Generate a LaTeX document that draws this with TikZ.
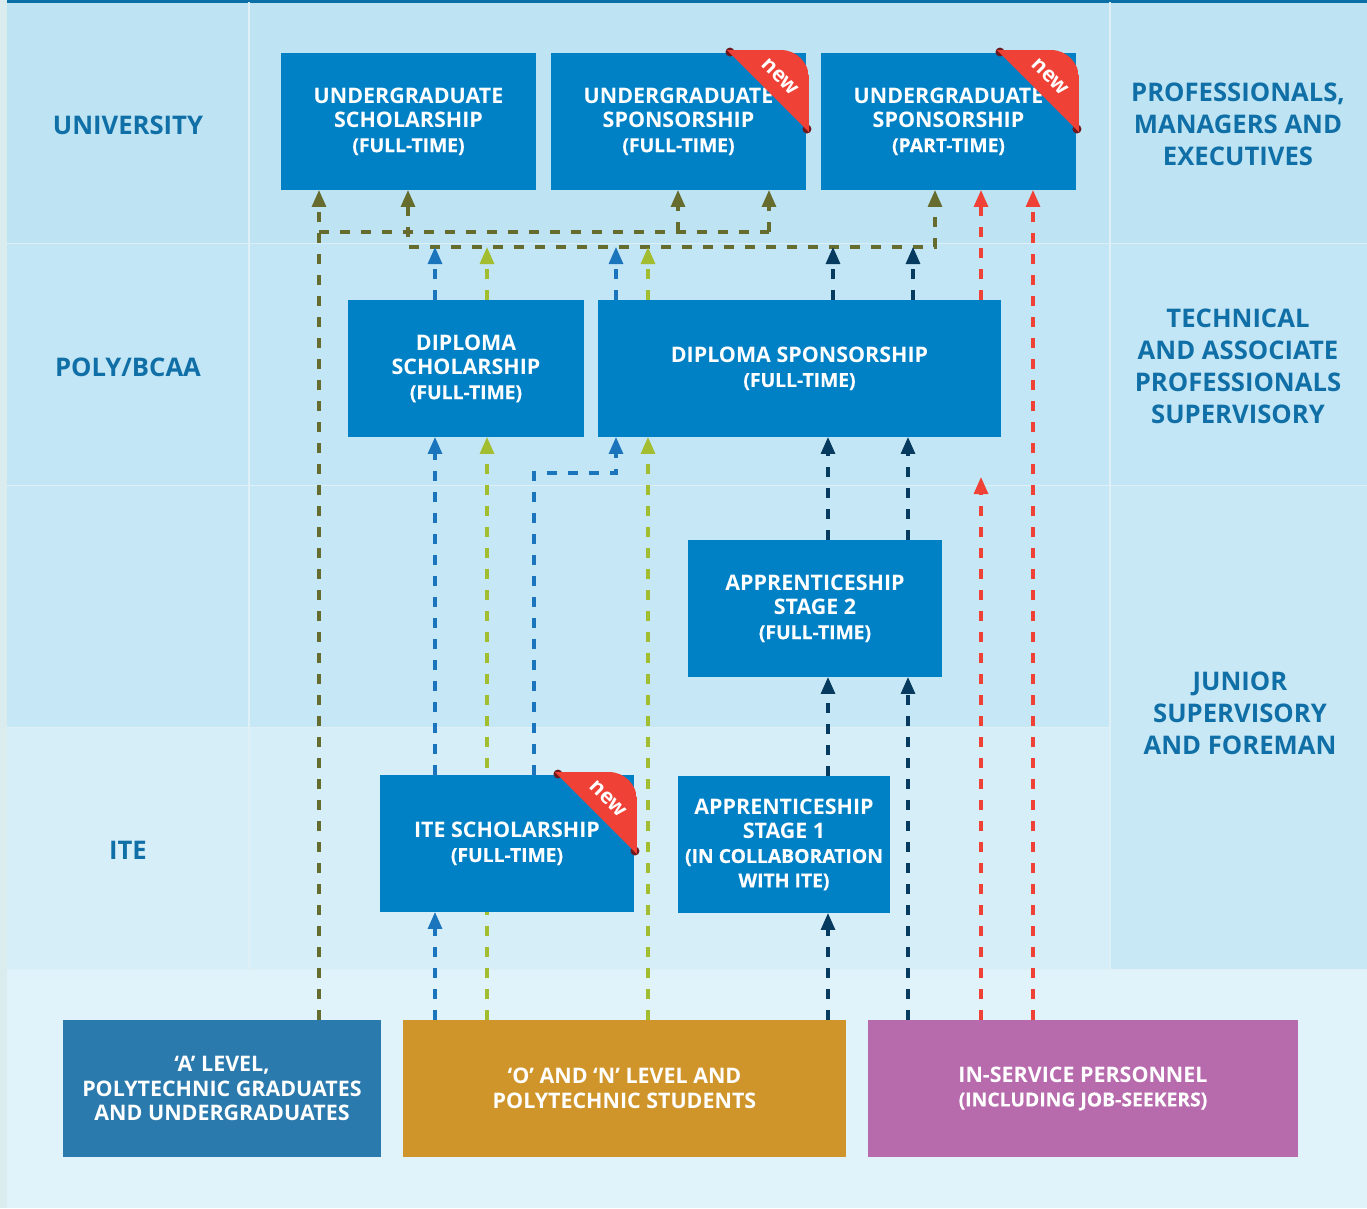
\documentclass[tikz,border=0pt]{standalone}
\usepackage{fontspec}
\setmainfont{Open Sans}
\newfontfamily\semiFont[FakeBold=0.3]{Open Sans}
\usetikzlibrary{arrows.meta, positioning, backgrounds}
\definecolor{bgStrip}{RGB}{219, 236, 238}
\definecolor{topBar}{RGB}{10, 111, 166}
\definecolor{rowUni}{RGB}{190, 228, 243}
\definecolor{rowPoly}{RGB}{194, 230, 245}
\definecolor{rowMid}{RGB}{198, 232, 246}
\definecolor{rowIte}{RGB}{214, 238, 248}
\definecolor{rowBase}{RGB}{224, 242, 250}
\definecolor{colJunior}{RGB}{200, 232, 245}
\definecolor{gridLine}{RGB}{222, 239, 245}
\definecolor{labelBlue}{RGB}{16, 111, 166}
\definecolor{progBlue}{RGB}{0, 129, 198}
\definecolor{levelA}{RGB}{42, 122, 173}
\definecolor{levelO}{RGB}{207, 149, 42}
\definecolor{levelIn}{RGB}{183, 107, 173}
\definecolor{ribbonRed}{RGB}{239, 65, 54}
\definecolor{ribbonDark}{RGB}{110, 25, 30}
\definecolor{arrOlive}{RGB}{101, 108, 46}
\definecolor{arrBlue}{RGB}{26, 117, 188}
\definecolor{arrLime}{RGB}{163, 189, 49}
\definecolor{arrNavy}{RGB}{6, 58, 94}
\definecolor{arrRed}{RGB}{239, 65, 54}
\newcommand{\progFont}{\bfseries\fontsize{12.2}{13.9}\selectfont}
\newcommand{\levelFont}{\bfseries\fontsize{14.6}{18.2}\selectfont}
\newcommand{\modeNote}[1]{{\semiFont\fontsize{11}{13.9}\selectfont #1}}
% "new" corner ribbon on a box
\newcommand{\ribbonNew}[1]{%
    \fill[ribbonDark] ([shift={(-76,-1)}]#1.north east) circle[radius=0.09cm];
    \fill[ribbonDark] ([shift={(1,76)}]#1.north east) circle[radius=0.09cm];
    \begin{scope}
        \clip[rounded corners=0.56cm] ([shift={(-200,-3)}]#1.north east) rectangle ([shift={(3,200)}]#1.north east);
        \fill[ribbonRed] ([shift={(-79,-3)}]#1.north east) -- ([shift={(3,-3)}]#1.north east) -- ([shift={(3,79)}]#1.north east) -- cycle;
    \end{scope}
    \node[newTag] at ([shift={(-26,24)}]#1.north east) {new};
}
\tikzset{
    upTip/.tip={Triangle[length=0.34cm, width=0.28cm]},
    prog/.style={
        rectangle,
        fill=progBlue,
        text=white,
        minimum width=5.1cm,
        minimum height=2.74cm,
        inner sep=0pt,
        outer sep=0pt,
        align=center,
        font=\progFont
    },
    entry/.style={
        prog,
        minimum height=2.74cm
    },
    levelLabel/.style={
        text=labelBlue,
        align=center,
        font=\levelFont
    },
    newTag/.style={
        text=white,
        rotate=-45,
        inner sep=0pt,
        font=\bfseries\fontsize{12}{12}\selectfont
    },
    link/.style={
        line width=1.8pt,
        dash pattern=on 0.2cm off 0.22cm,
        -upTip
    },
    olvLink/.style={link, draw=arrOlive},
    bluLink/.style={link, draw=arrBlue},
    limLink/.style={link, draw=arrLime},
    navLink/.style={link, draw=arrNavy},
    redLink/.style={link, draw=arrRed}
}
\begin{document}
\begin{tikzpicture}[x=0.02cm, y=-0.02cm]
    \useasboundingbox (0,0) rectangle (1367,1208);

    % Rows and columns
    \begin{scope}[on background layer]
        \fill[bgStrip] (0,0) rectangle (1367,1208);
        \fill[rowBase] (7,970) rectangle (1367,1208);
        \fill[rowUni] (7,2) rectangle (1367,243);
        \fill[rowPoly] (7,244) rectangle (1367,485);
        \fill[rowMid] (7,486) rectangle (1110,727);
        \fill[rowIte] (7,728) rectangle (1110,969);
        \fill[colJunior] (1110,486) rectangle (1367,969);
        \fill[topBar] (7,0) rectangle (1367,2.5);
        \draw[gridLine, line width=0.6pt] (249,2) -- (249,969) (1110,2) -- (1110,969)
            (7,243.5) -- (1367,243.5) (7,485.5) -- (1367,485.5)
            (7,727.5) -- (1110,727.5) (7,969.5) -- (1367,969.5);
    \end{scope}

    % Level labels
    \node[levelLabel] (lUni) at (128,125) {UNIVERSITY};
    \node[levelLabel] (lPoly) at (128,367) {POLY/BCAA};
    \node[levelLabel] (lIte) at (128,850) {ITE};
    \node[levelLabel] (rPro) at (1238,124) {PROFESSIONALS,\\MANAGERS AND\\EXECUTIVES};
    \node[levelLabel] (rTech) at (1238,366) {TECHNICAL\\AND ASSOCIATE\\PROFESSIONALS\\SUPERVISORY};
    \node[levelLabel] (rJun) at (1240,713) {JUNIOR\\SUPERVISORY\\AND FOREMAN};

    % Programmes
    \node[prog] (ugs) at (408.5,121.5) {UNDERGRADUATE\\SCHOLARSHIP\\\modeNote{(FULL-TIME)}};
    \node[prog] (ugsft) at (678.5,121.5) {UNDERGRADUATE\\SPONSORSHIP\\\modeNote{(FULL-TIME)}};
    \node[prog] (ugspt) at (948.5,121.5) {UNDERGRADUATE\\SPONSORSHIP\\\modeNote{(PART-TIME)}};
    \node[prog, minimum width=4.72cm] (dipsch) at (466,368.5) {DIPLOMA\\SCHOLARSHIP\\\modeNote{(FULL-TIME)}};
    \node[prog, minimum width=8.06cm] (dipsp) at (799.5,368.5) {DIPLOMA SPONSORSHIP\\\modeNote{(FULL-TIME)}};
    \node[prog, minimum width=5.08cm] (apptwo) at (815,608.5) {APPRENTICESHIP\\STAGE 2\\\modeNote{(FULL-TIME)}};
    \node[prog, minimum width=5.08cm] (itesch) at (507,843.5) {ITE SCHOLARSHIP\\\modeNote{(FULL-TIME)}};
    \node[prog, minimum width=4.24cm] (appone) at (784,844.5) {APPRENTICESHIP\\STAGE 1\\\modeNote{(IN COLLABORATION}\\\modeNote{WITH ITE)}};

    % Entry groups
    \node[entry, fill=levelA, minimum width=6.36cm] (alevel) at (222,1088.5) {‘A’ LEVEL,\\POLYTECHNIC GRADUATES\\AND UNDERGRADUATES};
    \node[entry, fill=levelO, minimum width=8.86cm] (oLevel) at (624.5,1088.5) {‘O’ AND ‘N’ LEVEL AND\\POLYTECHNIC STUDENTS};
    \node[entry, fill=levelIn, minimum width=8.6cm] (inServ) at (1083,1088.5) {IN-SERVICE PERSONNEL\\\modeNote{(INCLUDING JOB-SEEKERS)}};

    % New ribbons
    \ribbonNew{ugsft}
    \ribbonNew{ugspt}
    \ribbonNew{itesch}

    % Lanes
    \coordinate (xOlA) at (319,0);
    \coordinate (xOlB) at (408,0);
    \coordinate (xOlC) at (678,0);
    \coordinate (xOlD) at (769,0);
    \coordinate (xOlE) at (935,0);
    \coordinate (xBlA) at (435,0);
    \coordinate (xBlB) at (534,0);
    \coordinate (xBlC) at (616,0);
    \coordinate (xLiA) at (487,0);
    \coordinate (xLiB) at (648,0);
    \coordinate (xNvA) at (828,0);
    \coordinate (xNvB) at (908,0);
    \coordinate (xNvC) at (833,0);
    \coordinate (xNvD) at (913,0);
    \coordinate (xRdA) at (981,0);
    \coordinate (xRdB) at (1033,0);
    \coordinate (yOlA) at (0,232);
    \coordinate (yOlB) at (0,247);
    \coordinate (yBlC) at (0,473);
    \coordinate (redEnd) at (981,477);

    \begin{scope}[on background layer]
        % olive
        \draw[olvLink] (alevel.north -| xOlA) -- (ugs.south -| xOlA);
        \draw[olvLink, -] (yOlA -| xOlA) -- (yOlA -| xOlD);
        \draw[olvLink] (yOlA -| xOlC) -- (ugsft.south -| xOlC);
        \draw[olvLink] (yOlA -| xOlD) -- (ugsft.south -| xOlD);
        \draw[olvLink, upTip-upTip] (ugs.south -| xOlB) |- (yOlB -| xOlE) -- (ugspt.south -| xOlE);
        % blue
        \draw[bluLink] (oLevel.north -| xBlA) -- (itesch.south -| xBlA);
        \draw[bluLink] (itesch.north -| xBlA) -- (dipsch.south -| xBlA);
        \draw[bluLink] (dipsch.north -| xBlA) -- (yOlB -| xBlA);
        \draw[bluLink] (itesch.north -| xBlB) |- (yBlC -| xBlC) -- (dipsp.south -| xBlC);
        \draw[bluLink] (dipsp.north -| xBlC) -- (yOlB -| xBlC);
        % lime
        \draw[limLink] (oLevel.north -| xLiA) -- (dipsch.south -| xLiA);
        \draw[limLink] (dipsch.north -| xLiA) -- (yOlB -| xLiA);
        \draw[limLink] (oLevel.north -| xLiB) -- (dipsp.south -| xLiB);
        \draw[limLink] (dipsp.north -| xLiB) -- (yOlB -| xLiB);
        % navy
        \draw[navLink] (oLevel.north -| xNvA) -- (appone.south -| xNvA);
        \draw[navLink] (appone.north -| xNvA) -- (apptwo.south -| xNvA);
        \draw[navLink] (apptwo.north -| xNvA) -- (dipsp.south -| xNvA);
        \draw[navLink] (inServ.north -| xNvB) -- (apptwo.south -| xNvB);
        \draw[navLink] (apptwo.north -| xNvB) -- (dipsp.south -| xNvB);
        \draw[navLink] (dipsp.north -| xNvC) -- (yOlB -| xNvC);
        \draw[navLink] (dipsp.north -| xNvD) -- (yOlB -| xNvD);
        % red
        \draw[redLink] (inServ.north -| xRdA) -- (redEnd);
        \draw[redLink] (dipsp.north -| xRdA) -- (ugspt.south -| xRdA);
        \draw[redLink] (inServ.north -| xRdB) -- (ugspt.south -| xRdB);
    \end{scope}
\end{tikzpicture}
\end{document}
